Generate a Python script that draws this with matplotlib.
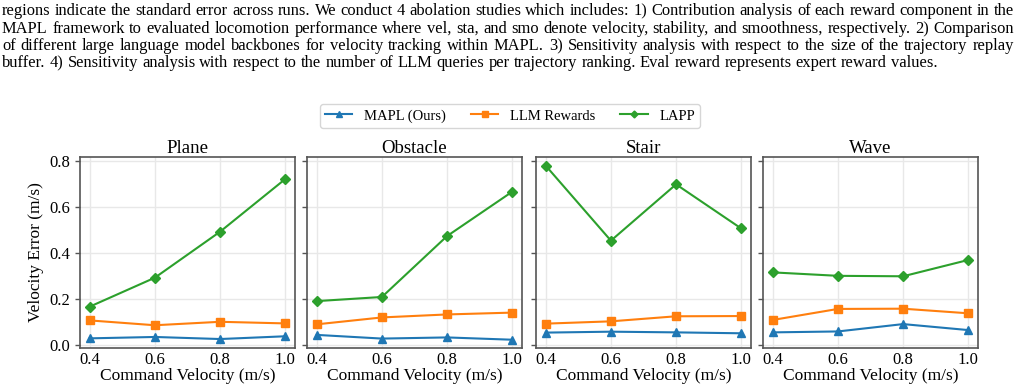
import matplotlib
matplotlib.use("Agg")
import matplotlib.pyplot as plt

plt.rcParams['font.family'] = ['Liberation Serif', 'DejaVu Serif']

# data
velocity = [0.4, 0.6, 0.8, 1.0]
terrains = ['Plane', 'Obstacle', 'Stair', 'Wave']

mapl = {
    'Plane':    [0.029, 0.035, 0.026, 0.038],
    'Obstacle': [0.044, 0.028, 0.033, 0.023],
    'Stair':    [0.054, 0.058, 0.055, 0.051],
    'Wave':     [0.055, 0.059, 0.091, 0.065],
}
llm_rewards = {
    'Plane':    [0.107, 0.086, 0.101, 0.094],
    'Obstacle': [0.090, 0.120, 0.133, 0.141],
    'Stair':    [0.093, 0.103, 0.125, 0.126],
    'Wave':     [0.109, 0.157, 0.158, 0.138],
}
lapp = {
    'Plane':    [0.167, 0.293, 0.493, 0.722],
    'Obstacle': [0.191, 0.209, 0.474, 0.667],
    'Stair':    [0.780, 0.454, 0.699, 0.507],
    'Wave':     [0.316, 0.301, 0.299, 0.370],
}

caption = [
    "regions indicate the standard error across runs. We conduct 4 abolation studies which includes: 1) Contribution analysis of each reward component in the",
    "MAPL framework to evaluated locomotion performance where vel, sta, and smo denote velocity, stability, and smoothness, respectively. 2) Comparison",
    "of different large language model backbones for velocity tracking within MAPL. 3) Sensitivity analysis with respect to the size of the trajectory replay",
    "buffer. 4) Sensitivity analysis with respect to the number of LLM queries per trajectory ranking. Eval reward represents expert reward values.",
]

W, H = 1020, 390
fig = plt.figure(figsize=(W / 100, H / 100), dpi=100)

# justified caption text above the chart
renderer = fig.canvas.get_renderer()
x_left, x_right = 2, 1014
baselines = [15, 33, 50, 67]
cap_size = 11.9

probe = fig.text(0, 0, "a a", fontsize=cap_size)
w_aa = probe.get_window_extent(renderer).width
probe.set_text("aa")
space_w = w_aa - probe.get_window_extent(renderer).width
probe.remove()

for i, line in enumerate(caption):
    words = line.split(" ")
    items = []
    for w in words:
        t = fig.text(0, 1 - baselines[i] / H, w, fontsize=cap_size, va='baseline')
        items.append((t, t.get_window_extent(renderer).width))
    total = sum(wd for _, wd in items)
    if i < len(caption) - 1:
        gap = (x_right - x_left - total) / (len(items) - 1)
    else:
        gap = space_w
    x = x_left
    for t, wd in items:
        t.set_x(x / W)
        x += wd + gap

# axes
lefts = [80, 307, 536, 763]
ax_w, ax_top, ax_bot = 215, 157, 348
axes = []
for i, name in enumerate(terrains):
    ax = fig.add_axes([lefts[i] / W, (H - ax_bot) / H, ax_w / W, (ax_bot - ax_top) / H])
    ax.plot(velocity, mapl[name], color='#1f77b4', marker='^', ms=5.5, lw=1.5,
            label='MAPL (Ours)')
    ax.plot(velocity, llm_rewards[name], color='#ff7f0e', marker='s', ms=5.5, lw=1.5,
            label='LLM Rewards')
    ax.plot(velocity, lapp[name], color='#2ca02c', marker='D', ms=5, lw=1.5,
            label='LAPP')
    ax.set_ylim(-0.013, 0.818)
    ax.set_xticks(velocity)
    ax.set_yticks([0.0, 0.2, 0.4, 0.6, 0.8])
    ax.grid(True, color='#e8e8e8', lw=1)
    ax.set_axisbelow(True)
    for s in ax.spines.values():
        s.set_color('#555555')
        s.set_linewidth(1.2)
    ax.tick_params(axis='x', length=0, pad=3, labelsize=12)
    ax.tick_params(axis='y', length=3.5, width=1, color='#555555', labelsize=12)
    ax.set_title(name, fontsize=13.5, pad=3)
    ax.set_xlabel('Command Velocity (m/s)', fontsize=12.5, labelpad=0)
    if i == 0:
        ax.set_ylabel('Velocity Error (m/s)', fontsize=12.5, labelpad=4)
    else:
        ax.set_yticklabels([])
    axes.append(ax)

handles, labels = axes[0].get_legend_handles_labels()
fig.legend(handles, labels, loc='center', bbox_to_anchor=(510 / W, 1 - 116 / H),
           ncol=3, fontsize=10.5, frameon=True, edgecolor='#cccccc',
           handlelength=1.9, columnspacing=1.7, markerscale=0.7, borderpad=0.35)

fig.savefig('out.png', dpi=100)
